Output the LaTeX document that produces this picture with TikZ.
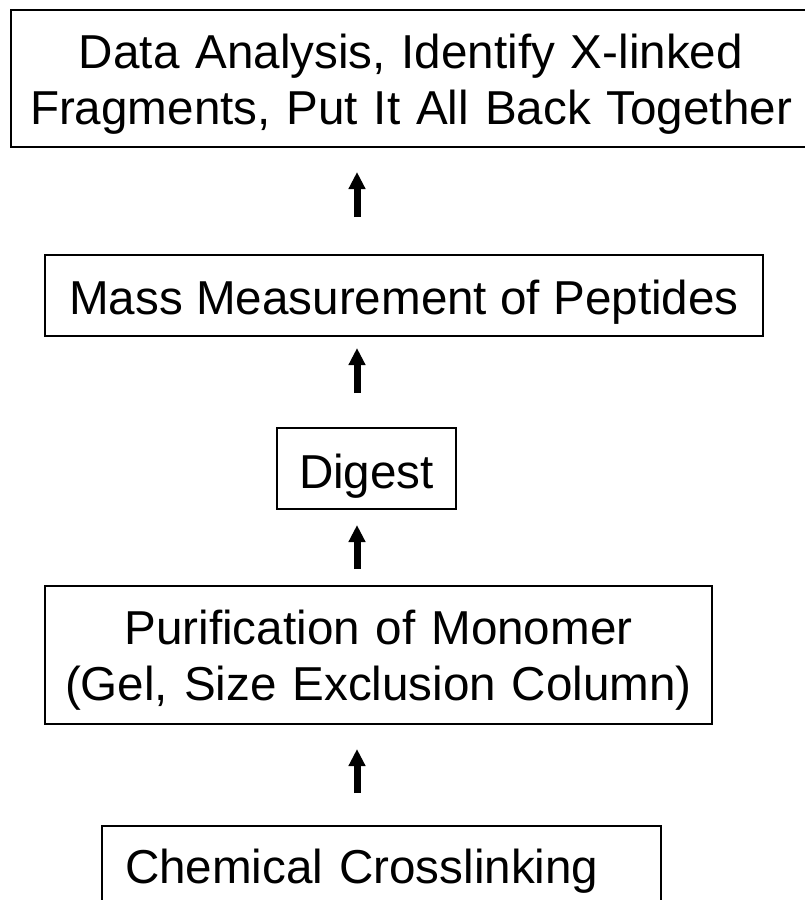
\documentclass[tikz,border=0pt]{standalone}
\usepackage{fontspec}
\setmainfont{Liberation Sans}
\usetikzlibrary{arrows.meta}
\begin{document}
\begin{tikzpicture}[x=1pt,y=-1pt,
  stage/.style={draw,line width=2pt,inner ysep=0pt,anchor=north west,
    font=\fontsize{47.6}{56.5}\selectfont},
  flow/.style={line width=7pt,-{Triangle[length=17pt,width=16pt]}}]
\clip (0,0) rectangle (805,900);
\coordinate (ax) at (357,0);
\node[stage,text width=790pt,inner xsep=5pt,align=center,text height=58pt,text depth=79pt] (analysis) at (10,9)
  {Data Analysis, Identify X-linked\\Fragments, Put It All Back Together};
\node[stage,minimum width=718pt,inner xsep=0pt,text height=59pt,text depth=22pt] (mass) at (44,254) {Mass Measurement of Peptides};
\node[stage,minimum width=179pt,inner xsep=0pt,text height=60pt,text depth=21pt] (digest) at (276,427) {Digest};
\node[stage,text width=657pt,inner xsep=5pt,align=center,text height=58pt,text depth=80pt] (purif) at (44,585)
  {Purification of Monomer\\(Gel, Size Exclusion Column)};
\node[stage,text width=513pt,inner xsep=23pt,align=left,text height=57pt,text depth=30pt] (xlink) at (101,825) {Chemical Crosslinking};
\draw[flow,shorten <=32pt,shorten >=24pt] (xlink.north -| ax) -- (purif.south -| ax);
\draw[flow,shorten <=16pt,shorten >=15pt] (purif.north -| ax) -- (digest.south -| ax);
\draw[flow,shorten <=34pt,shorten >=11pt] (digest.north -| ax) -- (mass.south -| ax);
\draw[flow,shorten <=37pt,shorten >=24pt] (mass.north -| ax) -- (analysis.south -| ax);
\end{tikzpicture}
\end{document}
